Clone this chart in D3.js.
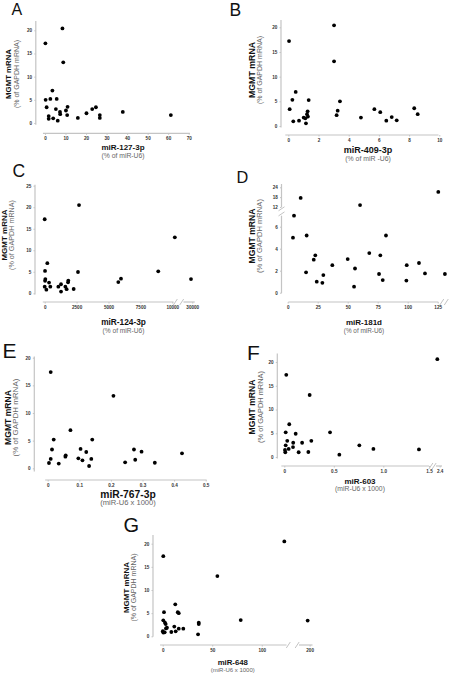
<!DOCTYPE html>
<html><head><meta charset="utf-8">
<script src="https://cdn.jsdelivr.net/npm/d3@7/dist/d3.min.js"></script>
<style>body{margin:0;background:#fff}svg{display:block}text{font-family:"Liberation Sans",Arial,sans-serif}</style>
</head><body><svg id="c" width="450" height="675"></svg>
<script>
// ---------- DATA ----------
const yTicks20 = [0, 5, 10, 15, 20];
const aX = [0.2, 8.5, 8.9, 3.6, 0.3, 2.6, 5.7, 0.8, 5.3, 1.8, 1.8, 4.0, 6.2, 7.3, 7.4, 10.2, 11.0, 10.8, 16.0, 20.2, 23.0, 24.8, 26.7, 26.7, 37.9, 61.3];
const aY = [17.2, 20.4, 13.1, 7.0, 5.0, 5.2, 5.2, 3.4, 3.0, 1.5, 0.9, 1.0, 0.5, 2.4, 1.9, 2.7, 3.5, 1.7, 1.1, 2.1, 3.0, 3.4, 1.7, 1.1, 2.4, 1.7];
const aXTicks = [0, 10, 20, 30, 40, 50, 60, 70];

const bX = [0.05, 3.03, 3.03, 0.49, 0.27, 0.09, 0.33, 0.71, 1.02, 1.13, 1.17, 1.24, 1.28, 1.3, 1.35, 3.2, 3.27, 3.42, 4.81, 5.7, 6.09, 6.49, 6.85, 7.18, 8.34, 8.57];
const bY = [17.2, 20.4, 13.1, 6.9, 5.3, 3.4, 0.95, 1.08, 1.7, 1.55, 0.54, 2.4, 2.97, 1.9, 5.26, 2.2, 3.1, 5.0, 1.7, 3.4, 2.8, 1.08, 1.8, 1.15, 3.6, 2.4];
const bXTicks = [0, 2, 4, 6, 8, 10];

const cX = [0, 2690, 10200, 8900, 29900, 2610, 205, 25, 50, 30, 0, 130, 340, 440, 1070, 1280, 1280, 1620, 1720, 1830, 1850, 2270, 5770, 5980];
const cY = [17.2, 20.5, 13.0, 5.1, 3.3, 4.95, 7.0, 5.2, 3.3, 2.9, 1.55, 0.85, 2.5, 1.55, 1.55, 2.1, 0.4, 1.55, 0.95, 2.55, 2.95, 1.0, 2.6, 3.4];
const cXTicks = [0, 2500, 5000, 7500, 10000, 30000];
const cYTicks = [0, 5, 10, 15, 20, 25];

const dX = [10.8, 60.3, 125.5, 5.25, 4.4, 15.8, 15.3, 21.7, 23, 24.2, 28.9, 29.7, 37.2, 50, 56.1, 55.3, 68, 76.1, 77.2, 79.2, 81.9, 99.2, 98.9, 109.4, 114.4, 131];
const dY = [17.5, 13.2, 21.2, 7.0, 5.0, 5.2, 1.85, 3.0, 3.4, 1.0, 0.9, 1.6, 2.5, 3.06, 2.2, 0.55, 3.6, 1.7, 3.4, 1.15, 5.2, 2.5, 1.1, 2.7, 1.75, 1.7];
const dXTicks = [0, 25, 50, 75, 100, 125];
const dYTicks = [0, 2, 4, 6, 12, 18, 24];

const eX = [0.0095, 0.208, 0.072, 0.019, 0.0136, 0.0095, 0.004, 0.035, 0.057, 0.056, 0.097, 0.104, 0.11, 0.122, 0.131, 0.138, 0.141, 0.245, 0.273, 0.277, 0.297, 0.339, 0.425];
const eY = [17.4, 13.1, 6.9, 5.2, 3.4, 1.7, 0.96, 0.85, 2.35, 2.1, 1.8, 3.5, 1.45, 2.95, 0.42, 1.7, 5.2, 1.08, 3.4, 1.55, 3.0, 1.0, 2.7];
const eXTicks = [0, 0.1, 0.2, 0.3, 0.4, 0.5];

const fX = [0.02, 0.256, 2.35, 0.05, 0.014, 0.115, 0.03, 0.014, 0.007, 0.01, 0.044, 0.09, 0.088, 0.145, 0.18, 0.243, 0.273, 0.462, 0.556, 0.758, 0.9, 1.39];
const fY = [17.3, 13.05, 20.6, 6.9, 5.2, 4.9, 3.4, 2.45, 1.5, 1.0, 1.7, 3.0, 2.1, 1.0, 3.0, 1.05, 3.4, 5.2, 0.5, 2.45, 1.7, 1.6];
const fXTicks = [0, 0.5, 1.0, 1.5, 2.4];
const fXLabels = ["0", "0.5", "1.0", "1.5", "2.4"];

const gX = [0.6, 122.8, 55.2, 78.8, 198, 12.7, 1.3, 16.2, 15.2, 0.6, 2.3, 3.0, 3.3, 0.1, 0.6, 2.0, 4.3, 8.7, 11.7, 13.1, 16.2, 20.8, 36.4, 36.4, 35.7];
const gY = [17.3, 20.5, 13.0, 3.5, 3.4, 6.9, 5.2, 5.0, 5.2, 3.45, 2.95, 2.65, 1.7, 1.1, 0.8, 0.85, 1.85, 0.93, 2.1, 1.08, 1.65, 1.65, 2.95, 2.65, 0.43];
const gXTicks = [0, 50, 100, 200];

const yName = "MGMT mRNA", yUnit = "(% of GAPDH mRNA)";

// ---------- LAYOUT ----------
const panels = [
 {letter:"A", xs:aX, ys:aY, xT:aXTicks, yT:yTicks20, xName:"miR-127-3p", xUnit:"(% of miR-U6)",
  L:{lx:11.5,ly:15,ls:16, xDom:[0,70], xRng:[45,188.7], xSegs:[[-1,70.6]], xAy:133.3,
     yDom:[0,20], yRng:[123,30.3], ySegs:[[-0.4,22]], yAx:35.8,
     tX:123,tY:150.3,tS:8, uY:157.8,uS:6.8, y1X:8.3,y2X:16.5,yY:74,y1S:7.8,y2S:7}},
 {letter:"B", xs:bX, ys:bY, xT:bXTicks, yT:yTicks20, xName:"miR-409-3p", xUnit:"(% of miR -U6)",
  L:{lx:229.5,ly:16,ls:17.5, xDom:[0,10], xRng:[288.3,439.3], xSegs:[[-0.2,9.95]], xAy:135,
     yDom:[0,20], yRng:[126,27.3], ySegs:[[-0.3,21.5]], yAx:281,
     tX:368,tY:153,tS:9, uY:161.3,uS:6.9, y1X:251.8,y2X:259.5,yY:70,y1S:8.8,y2S:7}},
 {letter:"C", xs:cX, ys:cY, xT:cXTicks, yT:cYTicks, xName:"miR-124-3p", xUnit:"(% of miR-U6)",
  L:{lx:12.5,ly:176.7,ls:17.5, xDom:[0,10300,29300,30300], xRng:[44.7,176.1,183.5,196], xSegs:[[-150,10100],[29300,30200]], xAy:302,
     yDom:[0,25], yRng:[293.3,185.7], ySegs:[[-0.3,25.2]], yAx:35,
     tX:123.5,tY:325,tS:8.3, uY:332.5,uS:6.6, y1X:4.8,y2X:11.5,yY:235,y1S:8,y2S:7.2}},
 {letter:"D", xs:dX, ys:dY, xT:dXTicks, yT:dYTicks, xName:"miR-181d", xUnit:"(% of miR-U6)", breakEnd:true,
  L:{lx:236.5,ly:183.3,ls:16.3, xDom:[0,135], xRng:[287.7,449.7], xSegs:[[0.5,125.5]], xAy:302,
     yDom:[0,7,12,26], yRng:[292.7,215.7,207,184], ySegs:[[-0.05,7],[12,26]], yAx:281.5,
     tX:364,tY:325,tS:8, uY:332.5,uS:6.4, y1X:252,y2X:259.5,yY:236,y1S:8.6,y2S:7.6}},
 {letter:"E", xs:eX, ys:eY, xT:eXTicks, yT:yTicks20, xName:"miR-767-3p", xUnit:"(miR-U6 x 1000)",
  L:{lx:2.5,ly:357.7,ls:21, xDom:[0,0.5], xRng:[47.7,205.7], xSegs:[[-0.008,0.503]], xAy:480,
     yDom:[0,20], yRng:[468.3,357.7], ySegs:[[-0.6,20.2]], yAx:34.3,
     tX:128,tY:497.5,tS:10.3, uY:505.3,uS:7.6, y1X:7.8,y2X:15.8,yY:417.5,y1S:8.6,y2S:8}},
 {letter:"F", xs:fX, ys:fY, xT:fXTicks, yT:yTicks20, xName:"miR-603", xUnit:"(miR-U6 x 1000)", xLab:fXLabels,
  L:{lx:247,ly:360,ls:21, xDom:[0,1.0,1.5,2.3,2.45], xRng:[284.3,383.3,429,435,442], xSegs:[[-0.03,1.51],[2.32,2.45]], xAy:466,
     yDom:[0,20], yRng:[457,362], ySegs:[[-0.3,21.8]], yAx:277.3,
     tX:360,tY:483.5,tS:8, uY:491,uS:6.8, y1X:252,y2X:260.3,yY:407,y1S:8.6,y2S:7.4}},
 {letter:"G", xs:gX, ys:gY, xT:gXTicks, yT:yTicks20, xName:"miR-648", xUnit:"(miR-U6 x 1000)",
  L:{lx:123.5,ly:531.7,ls:20, xDom:[0,125,188,203], xRng:[162.7,286.5,298,312.5], xSegs:[[-2.7,125],[189,203]], xAy:645,
     yDom:[0,20], yRng:[636.3,543.7], ySegs:[[-0.1,21.9]], yAx:153,
     tX:232.8,tY:665,tS:7.8, uY:672.3,uS:6,y1X:126,y2X:133.7,yY:587.5,y1S:8,y2S:7}}
];

const svg = d3.select("#c");
const axisCol = "#c4c4c4", tickTxt = "#333", tickFS = 4.6;

panels.forEach(p => {
  const L = p.L;
  const g = svg.append("g");
  const x = d3.scaleLinear().domain(L.xDom).range(L.xRng);
  const y = d3.scaleLinear().domain(L.yDom).range(L.yRng);

  // panel letter
  g.append("text").attr("x", L.lx).attr("y", L.ly).attr("font-size", L.ls)
    .attr("fill", "#111").text(p.letter);

  // x axis segments
  L.xSegs.forEach(s => g.append("line").attr("x1", x(s[0])).attr("x2", x(s[1]))
    .attr("y1", L.xAy).attr("y2", L.xAy).attr("stroke", axisCol).attr("stroke-width", 1.2));
  for (let i = 0; i < L.xSegs.length - 1; i++) {
    const a = x(L.xSegs[i][1]), b = x(L.xSegs[i + 1][0]);
    [a + 1.8, b - 1.8].forEach(px => g.append("line").attr("x1", px - 2).attr("x2", px + 2)
      .attr("y1", L.xAy + 3).attr("y2", L.xAy - 3).attr("stroke", axisCol).attr("stroke-width", 1));
  }
  if (p.breakEnd) {
    const a = x(L.xSegs[L.xSegs.length - 1][1]);
    [a + 3.5, a + 8].forEach(px => g.append("line").attr("x1", px - 2).attr("x2", px + 2)
      .attr("y1", L.xAy + 3).attr("y2", L.xAy - 3).attr("stroke", axisCol).attr("stroke-width", 1));
  }
  // y axis segments
  L.ySegs.forEach(s => g.append("line").attr("y1", y(s[0])).attr("y2", y(s[1]))
    .attr("x1", L.yAx).attr("x2", L.yAx).attr("stroke", axisCol).attr("stroke-width", 1.2));
  for (let i = 0; i < L.ySegs.length - 1; i++) {
    const a = y(L.ySegs[i][1]), b = y(L.ySegs[i + 1][0]);
    [a - 1.8, b + 1.8].forEach(py => g.append("line").attr("x1", L.yAx - 3).attr("x2", L.yAx + 3)
      .attr("y1", py + 2).attr("y2", py - 2).attr("stroke", axisCol).attr("stroke-width", 1));
  }

  // axes ticks + labels
  const xa = d3.axisBottom(x).tickValues(p.xT).tickSize(1.5).tickPadding(2)
    .tickFormat((d, i) => p.xLab ? p.xLab[i] : String(d));
  const gx = g.append("g").attr("transform", `translate(0,${L.xAy})`).call(xa);
  const ya = d3.axisLeft(y).tickValues(p.yT).tickSize(1.5).tickPadding(2.2);
  const gy = g.append("g").attr("transform", `translate(${L.yAx},0)`).call(ya);
  [gx, gy].forEach(ax => {
    ax.select(".domain").remove();
    ax.selectAll(".tick line").attr("stroke", axisCol);
    ax.selectAll(".tick text").attr("font-size", tickFS).attr("fill", tickTxt)
      .attr("font-family", "Liberation Sans, Arial, sans-serif").attr("font-weight", "bold");
  });

  // points
  g.append("g").selectAll("circle").data(p.xs.map((v, i) => [v, p.ys[i]])).join("circle")
    .attr("cx", d => x(d[0])).attr("cy", d => y(d[1])).attr("r", 1.9).attr("fill", "#000");

  // axis titles
  g.append("text").attr("x", L.tX).attr("y", L.tY).attr("text-anchor", "middle")
    .attr("font-size", L.tS).attr("font-weight", "bold").attr("fill", "#111").text(p.xName);
  g.append("text").attr("x", L.uX || L.tX).attr("y", L.uY).attr("text-anchor", "middle")
    .attr("font-size", L.uS).attr("fill", "#666").text(p.xUnit);
  g.append("text").attr("transform", `translate(${L.y1X},${L.yY}) rotate(-90)`)
    .attr("text-anchor", "middle").attr("dominant-baseline", "central")
    .attr("font-size", L.y1S).attr("font-weight", "bold").attr("fill", "#111").text(yName);
  g.append("text").attr("transform", `translate(${L.y2X},${L.yY}) rotate(-90)`)
    .attr("text-anchor", "middle").attr("dominant-baseline", "central")
    .attr("font-size", L.y2S).attr("fill", "#666").text(yUnit);
});
</script></body></html>
